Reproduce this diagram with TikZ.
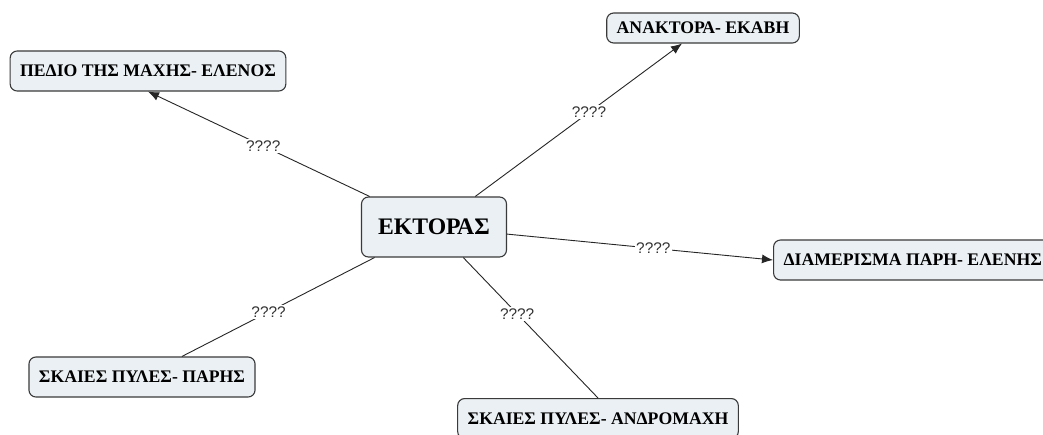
\documentclass[tikz,border=0pt]{standalone}
\usepackage{fontspec}
\setmainfont{Liberation Serif}
\setsansfont{Liberation Sans}
\usetikzlibrary{arrows.meta}
\definecolor{boxfill}{HTML}{EAF0F3}
\definecolor{boxline}{HTML}{3A3A3A}
\tikzset{>={Latex[length=11pt,width=9pt]}}
\tikzset{
  place/.style={draw=boxline, fill=boxfill, line width=1.1pt, rounded corners=7pt,
    font=\fontsize{17.7}{19}\selectfont\bfseries, inner xsep=10pt, minimum height=40pt},
  hub/.style={place, font=\fontsize{23.7}{25}\selectfont\bfseries, minimum width=145pt, minimum height=60pt},
  link/.style={line width=0.9pt, black!85},
  ask/.style={fill=white, inner sep=1.5pt, font=\fontsize{15.4}{16}\selectfont\sffamily, text=black!80}
}

\begin{document}
\begin{tikzpicture}[x=1pt,y=-1pt]
                \clip (0,0) rectangle (1043,434);
                \fill[white] (0,0) rectangle (1043,434);

                % Central place and the places around it
                \node[hub] (ektoras) at (434,227) {ΕΚΤΟΡΑΣ};
                \node[place] (pedio) at (148,71) {ΠΕΔΙΟ ΤΗΣ ΜΑΧΗΣ- ΕΛΕΝΟΣ};
                \node[place, minimum height=30pt] (anaktora) at (703,28) {ΑΝΑΚΤΟΡΑ- ΕΚΑΒΗ};
                \node[place, anchor=west] (diamerisma) at (773,260) {ΔΙΑΜΕΡΙΣΜΑ ΠΑΡΗ- ΕΛΕΝΗΣ};
                \node[place] (pyles) at (142,377) {ΣΚΑΙΕΣ ΠΥΛΕΣ- ΠΑΡΗΣ};
                \node[place, anchor=north] (andromachi) at (598,398) {ΣΚΑΙΕΣ ΠΥΛΕΣ- ΑΝΔΡΟΜΑΧΗ};

                % Arrows towards the upper and right places
                \draw[link,->] (ektoras) -- (pedio.south) node[ask,pos=0.48] (q1) {????};
                \draw[link,->] (ektoras) -- (anaktora) node[ask,pos=0.55] (q2) {????};
                \draw[link,->] (ektoras) -- (diamerisma.west) node[ask,pos=0.55] (q3) {????};

                % Plain lines towards the lower places
                \draw[link] (ektoras) -- (pyles) node[ask,pos=0.55] (q4) {????};
                \draw[link] (ektoras) -- (andromachi.north) node[ask,pos=0.4] (q5) {????};
\end{tikzpicture}
\end{document}
